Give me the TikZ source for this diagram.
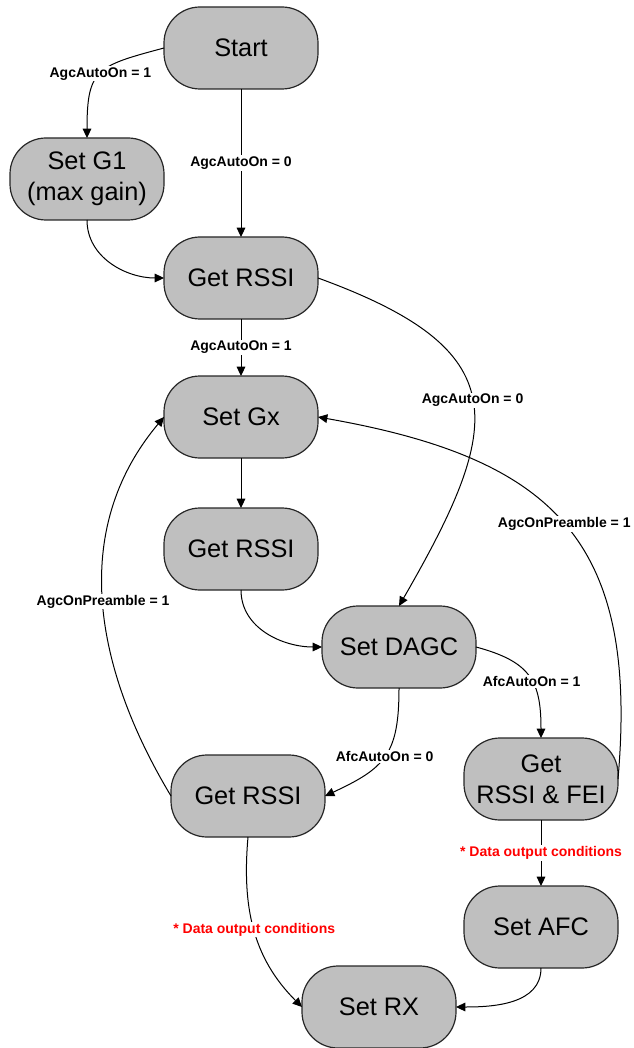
\documentclass[tikz,border=0pt]{standalone}
\usepackage{fontspec}
\setmainfont{Liberation Sans}
\usetikzlibrary{positioning,arrows.meta}

\begin{document}
\begin{tikzpicture}[->,>={Triangle[length=7pt,width=6.5pt]},x=0.75pt,y=0.75pt,line width=0.75pt,
  proc/.style={draw=black!85,line width=0.9pt,fill=black!25,rounded corners=27pt,minimum width=115.5pt,
    minimum height=61.5pt,inner sep=0pt,outer sep=0pt,align=center,font=\fontsize{19}{23}\selectfont},
  cond/.style={fill=white,inner sep=1pt,font=\bfseries\fontsize{10.5}{12}\selectfont},
  outcond/.style={cond,text=red}]
\useasboundingbox (0,0) rectangle (634,-1048);
\node[proc] (start) at (241,-48) {Start};
\node[proc,below left=36.75pt and 0pt of start] (ga) {Set G1\\(max gain)};
\node[proc,below=111pt of start] (rssia) {Get RSSI};
\node[proc,below=42.75pt of rssia] (gx) {Set Gx};
\node[proc,below=37.5pt of gx] (rssib) {Get RSSI};
\node[proc,below right=12pt and 3pt of rssib] (dagc) {Set DAGC};
\node[proc,below right=37.5pt and -9pt of dagc] (fei) {Get\\RSSI \& FEI};
\node[proc,below=123.75pt of rssib,xshift=5.25pt] (rssic) {Get RSSI};
\node[proc,below=49.5pt of fei] (afc) {Set AFC};
\node[proc,below left=-1.5pt and 6pt of afc] (rx) {Set RX};
\path (start.west) edge[out=195,in=90,looseness=1.5] node[cond] {AgcAutoOn = 1} (ga.north)
(start) edge node[cond] {AgcAutoOn = 0} (rssia)
(ga.south) edge[out=-90,in=180] (rssia.west)
(rssia) edge node[cond] {AgcAutoOn = 1} (gx)
(rssia.east) edge[out=-20,in=60,looseness=1.6] node[cond] {AgcAutoOn = 0} (dagc.north)
(gx) edge (rssib)
(rssib.south) edge[out=-90,in=180] (dagc.west)
(dagc.east) edge[out=-15,in=90,looseness=1.3] node[cond,pos=.55] {AfcAutoOn = 1} (fei.north)
(dagc.south) edge[out=-90,in=25,looseness=1.3] node[cond] {AfcAutoOn = 0} (rssic.east)
(fei.east) edge[out=85,in=-10,looseness=1.3] node[cond] {AgcOnPreamble = 1} (gx.east)
(rssic.west) edge[out=121,in=-130] node[cond] {AgcOnPreamble = 1} (gx.west)
(fei) edge node[outcond] {* Data output conditions} (afc)
(afc.south) edge[out=-90,in=0] (rx.east)
(rssic.south) edge[out=-95,in=135] node[outcond] {* Data output conditions} (rx.west);
\end{tikzpicture}
\end{document}
